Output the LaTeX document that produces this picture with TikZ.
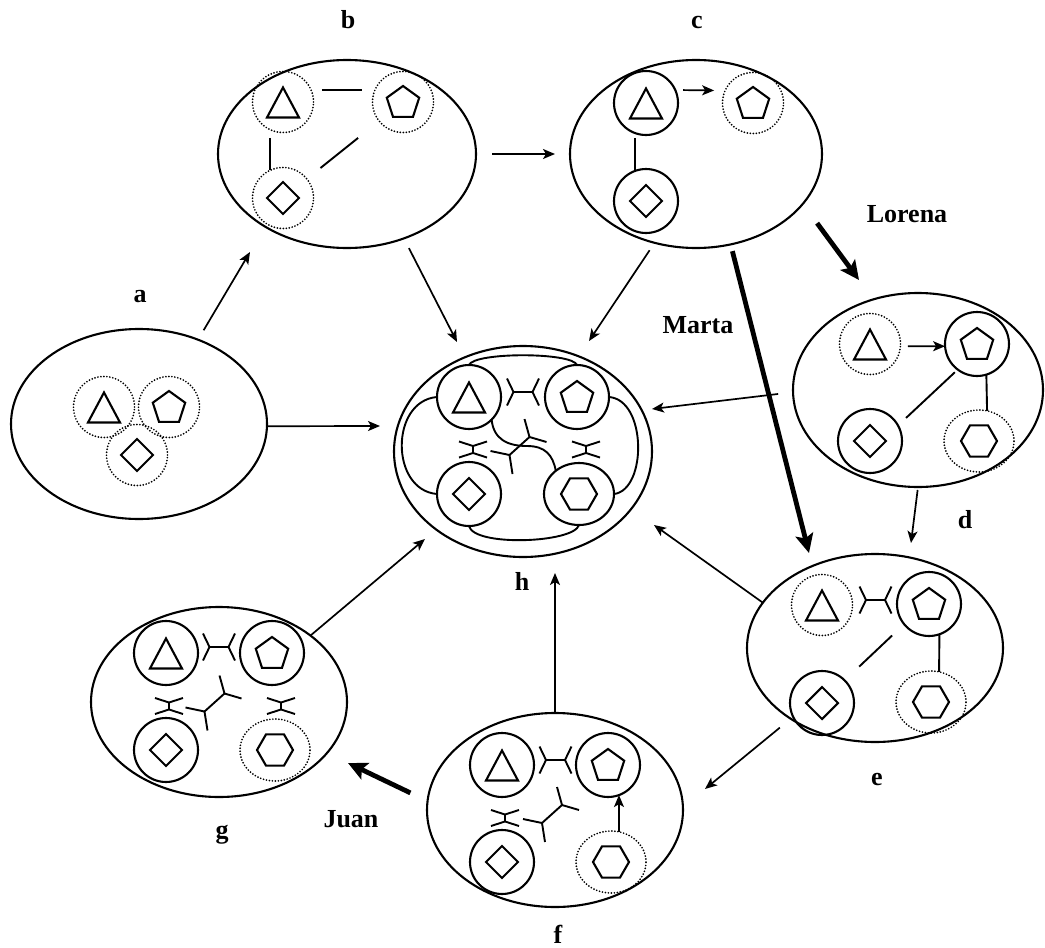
\documentclass[tikz,border=0pt]{standalone}
\usepackage{fontspec}
\setmainfont{Liberation Serif}
\usetikzlibrary{shapes.geometric,arrows.meta}

\begin{document}
\begin{tikzpicture}[x=1pt,y=-1pt,
  cell/.style={draw, ellipse, line width=2.1pt, inner sep=0pt, outer sep=0pt},
  sol/.style={draw, circle, line width=2.1pt, minimum size=64pt, inner sep=0pt, outer sep=0pt},
  dotc/.style={draw, circle, line width=1.9pt, line cap=round, dash pattern=on 0pt off 3pt,
    minimum size=61pt, inner sep=0pt, outer sep=0pt},
  hexsol/.style={draw, ellipse, line width=2.1pt, minimum width=70pt, minimum height=62pt,
    inner sep=0pt, outer sep=0pt},
  hexdot/.style={draw, ellipse, line width=1.9pt, line cap=round, dash pattern=on 0pt off 3pt,
    minimum width=70pt, minimum height=62pt, inner sep=0pt, outer sep=0pt},
  shp/.style={line width=2.1pt, line join=miter},
  gl/.style={line width=1.9pt},
  link/.style={line width=1.9pt},
  arr/.style={line width=1.7pt, -{Stealth[length=12pt,width=10pt,inset=3pt]}},
  heavy/.style={line width=4.8pt, -{Stealth[length=19pt,width=18pt,inset=4pt]}},
  lbl/.style={font=\fontsize{26}{30}\selectfont\bfseries, inner sep=0pt, anchor=base},
  tri/.pic={\draw[shp] (0,-14.5) -- (16,15.5) -- (-16,15.5) -- cycle;},
  pent/.pic={\draw[shp] (0,-16) -- (16.2,-4.3) -- (10,14.8) -- (-10,14.8) -- (-16.2,-4.3) -- cycle;},
  diam/.pic={\draw[shp] (0,-16) -- (16,0) -- (0,16) -- (-16,0) -- cycle;},
  hexa/.pic={\draw[shp] (-18,0) -- (-9,-15.6) -- (9,-15.6) -- (18,0) -- (9,15.6) -- (-9,15.6) -- cycle;},
  bondh/.pic={\draw[gl] (-16,-13.5) -- (-9.5,0) -- (-16,13.5);
              \draw[gl] (16,-13.5) -- (9.5,0) -- (16,13.5);
              \draw[gl] (-9.5,0) -- (9.5,0);},
  bondv/.pic={\draw[gl] (-14,-8) -- (0,-3.5) -- (14,-8);
              \draw[gl] (-14,8) -- (0,3.5) -- (14,8);
              \draw[gl] (0,-3.5) -- (0,3.5);},
  tripod/.pic={\draw[gl] (-10,9) -- (10,-9);
               \draw[gl] (5,-27) -- (10,-9) -- (27,-4);
               \draw[gl] (-29,5) -- (-10,9) -- (-7,28);}
]
\path[use as bounding box, fill=white] (0,0) rectangle (1045,948);

% ---- outer cells ----
\node[cell, minimum width=256pt, minimum height=190pt] (a) at (139,424) {};
\node[cell, minimum width=258pt, minimum height=188pt] (b) at (347,154) {};
\node[cell, minimum width=252pt, minimum height=188pt] (c) at (696,154) {};
\node[cell, minimum width=250pt, minimum height=194pt] (d) at (918,390) {};
\node[cell, minimum width=256pt, minimum height=188pt] (e) at (875,648) {};
\node[cell, minimum width=256pt, minimum height=194pt] (f) at (555,810) {};
\node[cell, minimum width=256pt, minimum height=190pt] (g) at (219,702) {};
\node[cell, minimum width=258pt, minimum height=211pt] (h) at (523,451.5) {};

% ---- a ----
\node[dotc] (aT) at (104,407) {}; \pic at (aT) {tri};
\node[dotc] (aP) at (169,407) {}; \pic at (aP) {pent};
\node[dotc] (aD) at (137,455) {}; \pic at (aD) {diam};

% ---- b ----
\node[dotc] (bT) at (283,102) {}; \pic at (bT) {tri};
\node[dotc] (bP) at (403,102) {}; \pic at (bP) {pent};
\node[dotc] (bD) at (283,198) {}; \pic at (bD) {diam};
\draw[link, shorten <=11pt, shorten >=13pt] (bT.24) -- (bP.156);
\draw[link, shorten <=8.5pt, shorten >=0.6pt] (bT.-116) -- (bD.116);
\draw[link, shorten <=17.5pt, shorten >=27pt] (bD) -- (bP);

% ---- c ----
\node[sol]  (cT) at (646,103) {}; \pic at (cT) {tri};
\node[dotc] (cP) at (753,103) {}; \pic at (cP) {pent};
\node[sol]  (cD) at (646,201) {}; \pic at (cD) {diam};
\draw[arr, shorten <=8pt, shorten >=11pt] (cT.24) -- (cP.156);
\draw[link, shorten <=5pt, shorten >=1pt] (cT.-110) -- (cD.110);

% ---- d ----
\node[dotc]   (dT) at (870,344) {}; \pic at (dT) {tri};
\node[sol]    (dP) at (977,344) {}; \pic at (dP) {pent};
\node[sol]    (dD) at (870,441) {}; \pic at (dD) {diam};
\node[hexdot] (dH) at (979,441) {}; \pic at (dH) {hexa};
\draw[arr, shorten <=7.5pt] (dT.-4) -- (dP.184);
\draw[link, shorten <=11pt, shorten >=4pt] (dD.29) -- (dP.-127);
\draw[link] (dP.-73) -- (dH.75);

% ---- e ----
\node[dotc]   (eT) at (822,605) {}; \pic at (eT) {tri};
\node[sol]    (eP) at (929,604) {}; \pic at (eP) {pent};
\node[sol]    (eD) at (822,703) {}; \pic at (eD) {diam};
\node[hexdot] (eH) at (931,702) {}; \pic at (eH) {hexa};
\pic at (875.5,600) {bondh};
\draw[link, shorten <=20pt, shorten >=16.5pt] (eD.45) -- (eP.-141);
\draw[link] (eP.-71) -- (eH.75);

% ---- f ----
\node[sol]    (fT) at (502,765) {}; \pic at (fT) {tri};
\node[sol]    (fP) at (608,765) {}; \pic at (fP) {pent};
\node[sol]    (fD) at (502,862) {}; \pic at (fD) {diam};
\node[hexdot] (fH) at (611,862) {}; \pic at (fH) {hexa};
\pic at (555.5,760) {bondh};
\pic at (505,818) {bondv};
\pic at (552,814) {tripod};
\draw[arr] (fH.75) -- (fP.-70);

% ---- g ----
\node[sol]    (gT) at (166,653) {}; \pic at (gT) {tri};
\node[sol]    (gP) at (272,653) {}; \pic at (gP) {pent};
\node[sol]    (gD) at (166,750) {}; \pic at (gD) {diam};
\node[hexdot] (gH) at (275,750) {}; \pic at (gH) {hexa};
\pic at (219,647) {bondh};
\pic at (169,706) {bondv};
\pic at (281,706) {bondv};
\pic at (214.5,702.5) {tripod};

% ---- h ----
\node[sol]    (hT) at (469,397) {}; \pic at (hT) {tri};
\node[sol]    (hP) at (577,397) {}; \pic at (hP) {pent};
\node[sol]    (hD) at (469,494) {}; \pic at (hD) {diam};
\node[hexsol] (hH) at (579,494) {}; \pic at (hH) {hexa};
\pic at (523,392) {bondh};
\pic at (473,449.5) {bondv};
\pic at (586,449.5) {bondv};
\pic at (519.5,446) {tripod};
\draw[link] (hT.north) .. controls +(5,-13) and +(-5,-13) .. (hP.north);
\draw[link] (hT.west) .. controls +(-47,4) and +(-47,-4) .. (hD.west);
\draw[link] (hP.east) .. controls +(38,3) and +(33,-4) .. (hH.east);
\draw[link] (hD.south) .. controls +(5,21) and +(-5,18) .. (hH.south);
\draw[link] (hT.-45) .. controls +(2,20) and (508,446) .. (527,446)
            .. controls (545,446) and +(-3,-16) .. (hH.135);

% ---- transitions ----
\coordinate (ab) at (250,252);
\coordinate (ah) at (380,426);
\coordinate (bc) at (555,154);
\coordinate (bh) at (457,342);
\coordinate (ch) at (589,341);
\coordinate (cd) at (859,280);
\coordinate (ce) at (809,553);
\coordinate (dh) at (652,409);
\coordinate (de) at (911,543);
\coordinate (eh) at (654,525);
\coordinate (ef) at (705,789);
\coordinate (fh) at (555,573);
\coordinate (gh) at (425,539);
\coordinate (fg) at (348,763);

\draw[arr, shorten <=11pt] (a.55) -- (ab);
\draw[arr] (a.-1) -- (ah);
\draw[arr, shorten <=16pt] (b.0) -- (bc);
\draw[arr, shorten <=11pt] (b.-56) -- (bh);
\draw[arr, shorten <=9pt] (c.-115) -- (ch);
\draw[heavy, shorten <=24pt] (c.-25) -- (cd);
\draw[heavy, shorten <=7pt] (c.-69) -- (ce);
\draw[arr, shorten <=15pt] (d.181) -- (dh);
\draw[arr, shorten <=3pt] (d.-90) -- (de);
\draw[arr] (e.158) -- (eh);
\draw[arr, shorten <=14pt] (e.-140) -- (ef);
\draw[arr] (f.90) -- (fh);
\draw[arr] (g.36) -- (gh);
\draw[heavy, shorten <=19pt] (f.176) -- (fg);

% ---- labels ----
\node[lbl] (la) at (140,302) {a};
\node[lbl] (lb) at (348,28) {b};
\node[lbl] (lc) at (697,28) {c};
\node[lbl] (ld) at (965,528) {d};
\node[lbl] (le) at (877,785) {e};
\node[lbl] (lf) at (558,943) {f};
\node[lbl] (lg) at (222,838) {g};
\node[lbl] (lh) at (522,590) {h};
\node[lbl] (lLorena) at (907,222) {Lorena};
\node[lbl] (lMarta) at (698,333) {Marta};
\node[lbl] (lJuan) at (351,827) {Juan};
\end{tikzpicture}
\end{document}
